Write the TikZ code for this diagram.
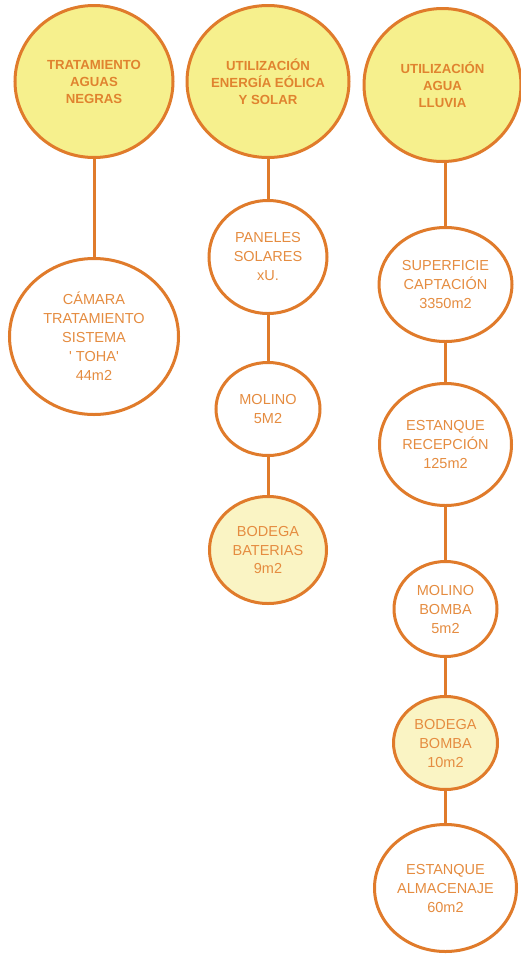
\documentclass[tikz,border=0pt]{standalone}
\usepackage{fontspec}
\setmainfont{Liberation Sans}
\usetikzlibrary{shapes.geometric}

\definecolor{ringorange}{RGB}{224,123,43}
\definecolor{headfill}{RGB}{246,240,141}
\definecolor{softfill}{RGB}{250,244,196}
\definecolor{headtext}{RGB}{224,131,47}
\definecolor{itemtext}{RGB}{229,140,64}

\tikzset{
  bubble/.style={ellipse, draw=ringorange, line width=3pt, inner sep=0pt,
    align=center},
  headbubble/.style={bubble, fill=headfill, text=headtext,
    font=\fontsize{13.2}{17}\selectfont\bfseries},
  itembubble/.style={bubble, fill=white, text=itemtext,
    font=\fontsize{14.5}{19}\selectfont},
  storebubble/.style={itembubble, fill=softfill},
  link/.style={draw=ringorange, line width=3pt}
}

\begin{document}
\begin{tikzpicture}[x=1pt, y=-1pt]
\useasboundingbox (0,0) rectangle (520,954);
\fill[white] (0,0) rectangle (520,954);

% column heads
\node[headbubble, minimum width=158pt, minimum height=152pt] (aguasnegras) at (94,81.5)
  {TRATAMIENTO\\AGUAS\\NEGRAS};
\node[headbubble, minimum width=162pt, minimum height=152pt] (energia) at (268,81.5)
  {UTILIZACIÓN\\ENERGÍA EÓLICA\\Y SOLAR};
\node[headbubble, minimum width=157pt, minimum height=153pt] (lluvia) at (442.5,85)
  {UTILIZACIÓN\\AGUA\\LLUVIA};

% sewage treatment
\node[itembubble, minimum width=169pt, minimum height=156pt] (camara) at (94,336.5)
  {CÁMARA\\TRATAMIENTO\\SISTEMA\\\textquotesingle\ TOHA\textquotesingle\\44m2};

% wind and solar energy
\node[itembubble, minimum width=118pt, minimum height=113pt] (paneles) at (268,257)
  {PANELES\\SOLARES\\xU.};
\node[itembubble, minimum width=104pt, minimum height=93pt] (molino) at (268,409)
  {MOLINO\\5M2};
\node[storebubble, minimum width=117pt, minimum height=107pt] (baterias) at (268,550)
  {BODEGA\\BATERIAS\\9m2};

% rainwater use
\node[itembubble, minimum width=133pt, minimum height=114pt] (superficie) at (445.5,284.5)
  {SUPERFICIE\\CAPTACIÓN\\3350m2};
\node[itembubble, minimum width=132pt, minimum height=122pt] (recepcion) at (445.5,444.5)
  {ESTANQUE\\RECEPCIÓN\\125m2};
\node[itembubble, minimum width=103pt, minimum height=95pt] (molbomba) at (445.5,609)
  {MOLINO\\BOMBA\\5m2};
\node[storebubble, minimum width=104pt, minimum height=93pt] (bodbomba) at (445.5,743)
  {BODEGA\\BOMBA\\10m2};
\node[itembubble, minimum width=142pt, minimum height=127pt] (almacenaje) at (445.5,888)
  {ESTANQUE\\ALMACENAJE\\60m2};

% connectors (kept vertical under each child)
\draw[link] (aguasnegras.south) -- (camara.north);
\draw[link] (energia.south) -- (paneles.north);
\draw[link] (paneles.south) -- (molino.north);
\draw[link] (molino.south) -- (baterias.north);
\draw[link] (superficie.north |- lluvia.south) -- (superficie.north);
\draw[link] (superficie.south) -- (recepcion.north);
\draw[link] (recepcion.south) -- (molbomba.north);
\draw[link] (molbomba.south) -- (bodbomba.north);
\draw[link] (bodbomba.south) -- (almacenaje.north);
\end{tikzpicture}
\end{document}
